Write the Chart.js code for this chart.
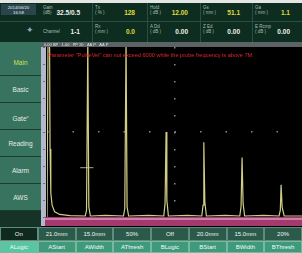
<!DOCTYPE html>
<html>
<head>
<meta charset="utf-8">
<script src="https://cdn.jsdelivr.net/npm/chart.js@4.4.1/dist/chart.umd.min.js"></script>
<style>
body{margin:0;width:302px;height:253px;overflow:hidden;background:#e4e6e4;font-family:"Liberation Sans",Arial,sans-serif;position:relative;}
.abs{position:absolute;box-sizing:border-box;}
#head{left:0;top:3px;width:302px;height:39px;background:#0c2d20;}
.lab{color:#a9beb4;font-size:4.5px;line-height:5px;}
.val{font-size:6.5px;font-weight:bold;line-height:8px;text-align:right;}
.side{left:0;width:41px;background:#37735e;border-bottom:1px solid #1a3d31;color:#e4ece8;font-size:6.5px;text-align:center;}
.btn{height:14px;font-size:6px;color:#eef4f0;text-align:center;line-height:13px;border:1px solid #5f8c7c;}
.btn2{height:12px;font-size:6px;color:#f4fbf8;text-align:center;line-height:11px;border:1px solid #78b8a0;}
</style>
</head>
<body>
<div id="head" class="abs"></div>
<div id="sidebar"></div>
<div id="bottom"></div>
<div class="abs" style="left:0;top:211px;width:41px;height:16px;background:#163328;"></div>
<div class="abs" style="left:41px;top:42px;width:261px;height:185px;background:#000;">
  <canvas id="scan" width="261" height="185"></canvas>
</div>
<script>
// header
var headCols = [40, 92, 147, 200, 252, 302];
var headLabels1 = [['Gain','(dB)'], ['Tx','( % )'], ['Hold','( dB )'], ['Gs','( mm )'], ['Ga','( mm )']];
var headValues1 = ['32.5/0.5', '128', '12.00', '51.1', '1.1'];
var headLabels2 = [['Channel',''], ['Rx','( mm )'], ['A Dd','( dB )'], ['Z Ed','( dB )'], ['E Rcmp','( dB )']];
var headValues2 = ['1-1', '0.0', '0.00', '0.00', '0.00'];
var headYellow1 = [false, true, true, true, true];
var headYellow2 = [false, true, false, false, false];

// left menu and bottom soft keys
var menuItems = ['Main', 'Basic', 'Gate', 'Reading', 'Alarm', 'AWS'];
var keyValues = ['On', '21.0mm', '15.0mm', '50%', 'Off', '20.0mm', '15.0mm', '20%'];
var keyNames = ['ALogic', 'AStart', 'AWidth', 'AThresh', 'BLogic', 'BStart', 'BWidth', 'BThresh'];

// A-scan trace (x in screen divisions, y in % full screen height)
var waveX = [0, 0.04, 0.1, 0.12, 0.15, 0.2, 0.3, 0.5, 0.9, 1.5, 1.55, 1.6, 1.64, 1.7, 2.3, 3.0, 3.05, 3.1, 3.14, 3.2, 4.0, 4.58, 4.63, 4.67, 4.7, 4.76, 5.5, 6.07, 6.12, 6.15, 6.19, 6.25, 7.0, 7.56, 7.61, 7.65, 7.69, 7.75, 8.5, 9.1, 9.15, 9.18, 9.22, 9.3, 10];
var waveY = [0, 104, 104, 40, 14, 7, 3, 1.5, 0.8, 0.6, 4, 104, 6, 0.6, 1, 0.6, 5, 104, 6, 0.6, 1, 0.6, 8, 50, 10, 0.6, 1, 0.6, 7, 44, 9, 0.6, 1, 0.6, 6, 35, 8, 0.6, 1, 0.6, 4, 19, 6, 0.6, 0.6];
var gateX = [1.3, 1.82];
var gateY = [29, 29];

var warning = 'Parameter "PulseVel" can not exceed 6000 while the probe frequency is above 7M.';
var statusText = '0.00 BP   1.00   PP 20   AA P   AA P';

function el(parent, cls, style, html){
	var d = document.createElement('div');
	d.className = 'abs ' + cls;
	d.style.cssText = style;
	d.innerHTML = html;
	parent.appendChild(d);
	return d;
}

var head = document.getElementById('head');
el(head, '', 'left:1px;top:1px;width:35px;height:11px;background:#28464c;color:#e8eef0;font-size:4.3px;line-height:5px;text-align:center;padding-top:0.5px;', '2014/06/20<br>16:58');
el(head, '', 'left:26px;top:22px;width:10px;height:10px;color:#8fa4b8;font-size:9px;line-height:10px;font-family:DejaVu Sans;', '&#x2726;');
el(head, '', 'left:0;top:18px;width:302px;height:1px;background:#2e4c40;', '');
var rows = [[headLabels1, headValues1, headYellow1, 0], [headLabels2, headValues2, headYellow2, 19]];
for (var i=0; i<headCols.length-1; i++){
	var x0 = headCols[i], x1 = headCols[i+1];
	if (i > 0) el(head, '', 'left:' + x0 + 'px;top:0;width:1px;height:39px;background:#2e4c40;', '');
	for (var r=0; r<2; r++){
		var labs = rows[r][0][i], v = rows[r][1][i], yel = rows[r][2][i], rowTop = rows[r][3];
		var labTop = labs[1] ? rowTop + 2 : rowTop + 7;
		el(head, 'lab', 'left:' + (x0 + 3) + 'px;top:' + labTop + 'px;width:30px;', labs[0] + (labs[1] ? '<br>' + labs[1] : ''));
		el(head, 'val', 'left:' + (x0 + 14) + 'px;top:' + (rowTop + 6) + 'px;width:' + (x1 - x0 - 26) + 'px;color:' + (yel ? '#e0dc3c' : '#eef2ee') + ';', v);
	}
}

var side = document.getElementById('sidebar');
var menuTop = [42, 76, 103, 130, 157, 184];
var menuH = [34, 27, 27, 27, 27, 27];
for (var i=0; i<menuItems.length; i++){
	var txt = menuItems[i] === 'Gate' ? 'Gate<sup style="font-size:4px;">s</sup>' : menuItems[i];
	el(side, 'side', 'top:' + menuTop[i] + 'px;height:' + menuH[i] + 'px;line-height:' + (i === 0 ? 42 : menuH[i]) + 'px;' + (i === 0 ? 'color:#cfe05a;' : ''), txt);
}

var bottom = document.getElementById('bottom');
var keyW = 302 / keyValues.length;
for (var i=0; i<keyValues.length; i++){
	el(bottom, 'btn', 'left:' + (i*keyW) + 'px;top:227px;width:' + keyW + 'px;background:' + (i === 0 ? '#10291f' : '#2b5a4b') + ';', keyValues[i]);
	el(bottom, 'btn2', 'left:' + (i*keyW) + 'px;top:241px;width:' + keyW + 'px;background:' + (i === 0 ? '#58c6a0' : '#3e9a7a') + ';', keyNames[i]);
}

// chart
var wavePoints = [];
for (var i=0; i<waveX.length; i++) wavePoints.push({x: waveX[i], y: waveY[i]});
var gatePoints = [];
for (var i=0; i<gateX.length; i++) gatePoints.push({x: gateX[i], y: gateY[i]});

var screenDecor = {
	id: 'screenDecor',
	beforeDraw: function(chart){
		var ctx = chart.ctx, area = chart.chartArea, yScale = chart.scales.y;
		ctx.save();
		// status strip
		ctx.fillStyle = '#5c6266';
		ctx.fillRect(0, 0, chart.width, area.top);
		ctx.fillStyle = '#dfe3e6';
		ctx.font = '4px "Liberation Sans"';
		ctx.textBaseline = 'middle';
		ctx.fillText(statusText, 3, area.top / 2 + 0.5);
		// left amplitude bar
		ctx.fillStyle = '#b4b8cc';
		ctx.fillRect(0, area.top, area.left - 1, area.bottom - area.top + 9);
		ctx.fillStyle = '#6a6f8c';
		for (var v=0; v<=100; v+=10){
			var py = yScale.getPixelForValue(v);
			ctx.fillRect(area.left - 4, py, 2, 1);
		}
		// gate bar
		ctx.fillStyle = '#a23a70';
		ctx.fillRect(area.left - 2, area.bottom, area.right - area.left + 2, 9);
		ctx.fillStyle = '#d47aa8';
		ctx.fillRect(area.left - 2, area.bottom + 1, area.right - area.left + 2, 2);
		ctx.restore();
	},
	afterDraw: function(chart){
		var ctx = chart.ctx, area = chart.chartArea;
		ctx.save();
		ctx.fillStyle = '#e3262a';
		ctx.font = '5.6px "Liberation Sans"';
		ctx.textBaseline = 'middle';
		ctx.fillText(warning, area.left + 1, area.top + 8);
		ctx.restore();
	}
};

new Chart(document.getElementById('scan'), {
	type: 'line',
	data: {
		datasets: [{
			data: wavePoints,
			borderColor: '#d2ce86',
			borderWidth: 1.2,
			pointRadius: 0,
			tension: 0
		}, {
			data: gatePoints,
			borderColor: '#a8a894',
			borderWidth: 1,
			pointRadius: 0
		}]
	},
	options: {
		responsive: false,
		animation: false,
		events: [],
		layout: {autoPadding: false, padding: {left: 6, top: 5, right: 0, bottom: 10}},
		plugins: {legend: {display: false}, tooltip: {enabled: false}},
		scales: {
			x: {
				type: 'linear', min: 0, max: 10,
				ticks: {display: false, stepSize: 1},
				grid: {drawTicks: false, color: function(c){ return c.tick && c.tick.value === 5 ? '#8a8a8a' : 'transparent'; }, lineWidth: 1.5},
				border: {display: false, dash: [1.5, 15.5]}
			},
			y: {
				min: 0, max: 100,
				ticks: {display: false, stepSize: 10},
				grid: {drawTicks: false, color: function(c){ return c.tick && c.tick.value === 50 ? '#8a8a8a' : 'transparent'; }, lineWidth: 1.5},
				border: {display: false, dash: [1.5, 24]}
			}
		}
	},
	plugins: [screenDecor]
});
</script>
</body>
</html>
